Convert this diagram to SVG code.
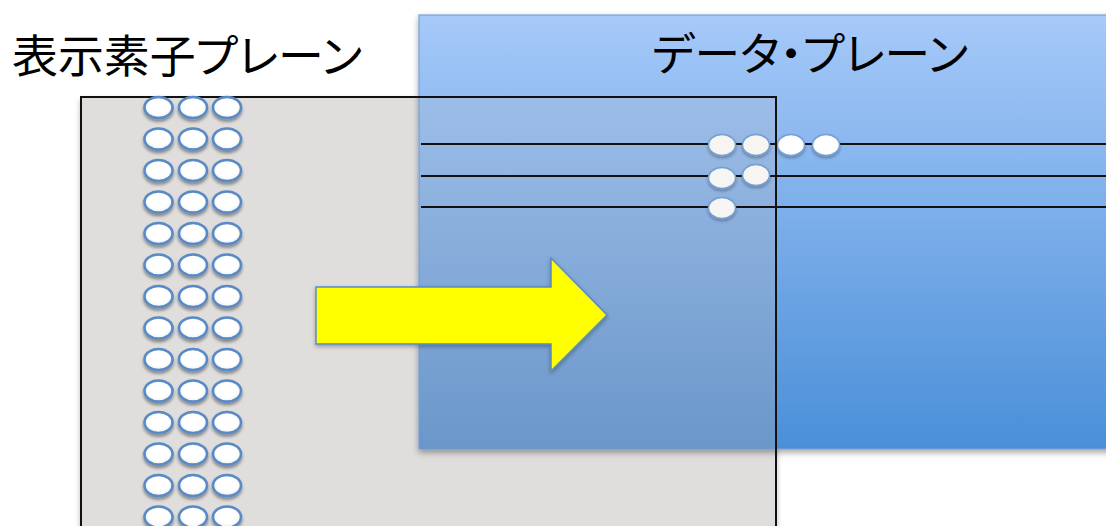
<svg xmlns="http://www.w3.org/2000/svg" width="1106" height="526" viewBox="0 0 1106 526">
  <defs>
    <linearGradient id="blueFill" x1="0" y1="15" x2="0" y2="449" gradientUnits="userSpaceOnUse">
      <stop offset="0" stop-color="#a6c9f9"/>
      <stop offset="1" stop-color="#4a8fd8"/>
    </linearGradient>
    <linearGradient id="overlapFill" x1="0" y1="97" x2="0" y2="449" gradientUnits="userSpaceOnUse">
      <stop offset="0" stop-color="#9dbde8"/>
      <stop offset="1" stop-color="#6a97c9"/>
    </linearGradient>
    <radialGradient id="dotFill" cx="0.5" cy="0.45" r="0.6">
      <stop offset="0.6" stop-color="#ffffff"/>
      <stop offset="1" stop-color="#e4e8ee"/>
    </radialGradient>
    <filter id="planeShadow" x="-5%" y="-5%" width="110%" height="115%">
      <feDropShadow dx="0" dy="3" stdDeviation="3" flood-color="#000" flood-opacity="0.35"/>
    </filter>
    <filter id="dotShadow" x="-30%" y="-30%" width="160%" height="180%">
      <feDropShadow dx="0" dy="2.5" stdDeviation="1.6" flood-color="#000" flood-opacity="0.4"/>
    </filter>
    <filter id="datumShadow" x="-30%" y="-30%" width="160%" height="180%">
      <feDropShadow dx="0" dy="2" stdDeviation="1.4" flood-color="#000" flood-opacity="0.3"/>
    </filter>
    <filter id="arrowShadow" x="-5%" y="-10%" width="110%" height="125%">
      <feDropShadow dx="0" dy="2" stdDeviation="2" flood-color="#000" flood-opacity="0.3"/>
    </filter>
  </defs>
  <style>
    .title { font-family: "Noto Sans CJK JP", "Noto Sans", sans-serif; font-size: 45px; font-weight: 400; fill: #000; font-feature-settings: "palt" 1; }
    .pixel { fill: url(#dotFill); stroke: #5a8ac6; stroke-width: 2.6; filter: url(#dotShadow); }
    .datum { stroke: #739fd4; stroke-width: 1.5; filter: url(#datumShadow); }
    .scan { stroke: #111; stroke-width: 2; fill: none; }
  </style>

  <rect width="1106" height="526" fill="#ffffff"/>

  <!-- display element plane (background fill) -->
  <g id="display-plane">
    <rect x="81" y="97" width="695" height="440" fill="#dfdedc" filter="url(#planeShadow)"/>
  </g>

  <!-- data plane -->
  <g id="data-plane">
    <rect x="419" y="15" width="700" height="434" fill="url(#blueFill)" stroke="#78a1d6" stroke-width="1.2" filter="url(#planeShadow)"/>
    <rect x="420" y="97" width="356" height="352" fill="url(#overlapFill)"/>
    <text class="title" x="652" y="71" textLength="316" lengthAdjust="spacingAndGlyphs">データ・プレーン</text>
  </g>

  <!-- scan lines carrying data -->
  <g id="connectors">
    <line class="scan" x1="421" y1="144" x2="1106" y2="144"/>
    <line class="scan" x1="421" y1="176" x2="1106" y2="176"/>
    <line class="scan" x1="421" y1="207" x2="1106" y2="207"/>
  </g>

  <!-- data samples on the scan lines -->
  <g id="data-samples">
    <ellipse class="datum" cx="722" cy="145" rx="13.5" ry="10.5" fill="#f7f5f1"/>
    <ellipse class="datum" cx="756" cy="145" rx="13.5" ry="10.5" fill="#f7f5f1"/>
    <ellipse class="datum" cx="791" cy="145" rx="13.5" ry="10.5" fill="#ffffff"/>
    <ellipse class="datum" cx="826" cy="145" rx="13.5" ry="10.5" fill="#ffffff"/>
    <ellipse class="datum" cx="722" cy="178" rx="13.5" ry="10.5" fill="#f7f5f1"/>
    <ellipse class="datum" cx="756" cy="175" rx="13.5" ry="10.5" fill="#f7f5f1"/>
    <ellipse class="datum" cx="722" cy="208" rx="13.5" ry="10.5" fill="#f7f5f1"/>
  </g>

  <!-- display element plane outline and elements -->
  <g id="display-elements">
    <rect x="81" y="97" width="695" height="440" fill="none" stroke="#111" stroke-width="2"/>
    <text class="title" x="12" y="73" textLength="350" lengthAdjust="spacingAndGlyphs">表示素子プレーン</text>
    <g id="pixel-grid">
      <ellipse class="pixel" cx="158.5" cy="107.5" rx="14" ry="10.5"/><ellipse class="pixel" cx="193" cy="107.5" rx="14" ry="10.5"/><ellipse class="pixel" cx="227" cy="107.5" rx="14" ry="10.5"/>
      <ellipse class="pixel" cx="158.5" cy="139" rx="14" ry="10.5"/><ellipse class="pixel" cx="193" cy="139" rx="14" ry="10.5"/><ellipse class="pixel" cx="227" cy="139" rx="14" ry="10.5"/>
      <ellipse class="pixel" cx="158.5" cy="170.5" rx="14" ry="10.5"/><ellipse class="pixel" cx="193" cy="170.5" rx="14" ry="10.5"/><ellipse class="pixel" cx="227" cy="170.5" rx="14" ry="10.5"/>
      <ellipse class="pixel" cx="158.5" cy="202" rx="14" ry="10.5"/><ellipse class="pixel" cx="193" cy="202" rx="14" ry="10.5"/><ellipse class="pixel" cx="227" cy="202" rx="14" ry="10.5"/>
      <ellipse class="pixel" cx="158.5" cy="233.5" rx="14" ry="10.5"/><ellipse class="pixel" cx="193" cy="233.5" rx="14" ry="10.5"/><ellipse class="pixel" cx="227" cy="233.5" rx="14" ry="10.5"/>
      <ellipse class="pixel" cx="158.5" cy="265" rx="14" ry="10.5"/><ellipse class="pixel" cx="193" cy="265" rx="14" ry="10.5"/><ellipse class="pixel" cx="227" cy="265" rx="14" ry="10.5"/>
      <ellipse class="pixel" cx="158.5" cy="296.5" rx="14" ry="10.5"/><ellipse class="pixel" cx="193" cy="296.5" rx="14" ry="10.5"/><ellipse class="pixel" cx="227" cy="296.5" rx="14" ry="10.5"/>
      <ellipse class="pixel" cx="158.5" cy="328" rx="14" ry="10.5"/><ellipse class="pixel" cx="193" cy="328" rx="14" ry="10.5"/><ellipse class="pixel" cx="227" cy="328" rx="14" ry="10.5"/>
      <ellipse class="pixel" cx="158.5" cy="359.5" rx="14" ry="10.5"/><ellipse class="pixel" cx="193" cy="359.5" rx="14" ry="10.5"/><ellipse class="pixel" cx="227" cy="359.5" rx="14" ry="10.5"/>
      <ellipse class="pixel" cx="158.5" cy="391" rx="14" ry="10.5"/><ellipse class="pixel" cx="193" cy="391" rx="14" ry="10.5"/><ellipse class="pixel" cx="227" cy="391" rx="14" ry="10.5"/>
      <ellipse class="pixel" cx="158.5" cy="422.5" rx="14" ry="10.5"/><ellipse class="pixel" cx="193" cy="422.5" rx="14" ry="10.5"/><ellipse class="pixel" cx="227" cy="422.5" rx="14" ry="10.5"/>
      <ellipse class="pixel" cx="158.5" cy="454" rx="14" ry="10.5"/><ellipse class="pixel" cx="193" cy="454" rx="14" ry="10.5"/><ellipse class="pixel" cx="227" cy="454" rx="14" ry="10.5"/>
      <ellipse class="pixel" cx="158.5" cy="485.5" rx="14" ry="10.5"/><ellipse class="pixel" cx="193" cy="485.5" rx="14" ry="10.5"/><ellipse class="pixel" cx="227" cy="485.5" rx="14" ry="10.5"/>
      <ellipse class="pixel" cx="158.5" cy="517" rx="14" ry="10.5"/><ellipse class="pixel" cx="193" cy="517" rx="14" ry="10.5"/><ellipse class="pixel" cx="227" cy="517" rx="14" ry="10.5"/>
    </g>
  </g>

  <!-- transfer arrow -->
  <g id="transfer-arrow">
    <polygon points="316,287 551,287 551,258 607,315 551,371 551,344 316,344" fill="#ffff00" stroke="#5b8ac0" stroke-width="1.5" stroke-linejoin="miter" filter="url(#arrowShadow)"/>
  </g>
</svg>
